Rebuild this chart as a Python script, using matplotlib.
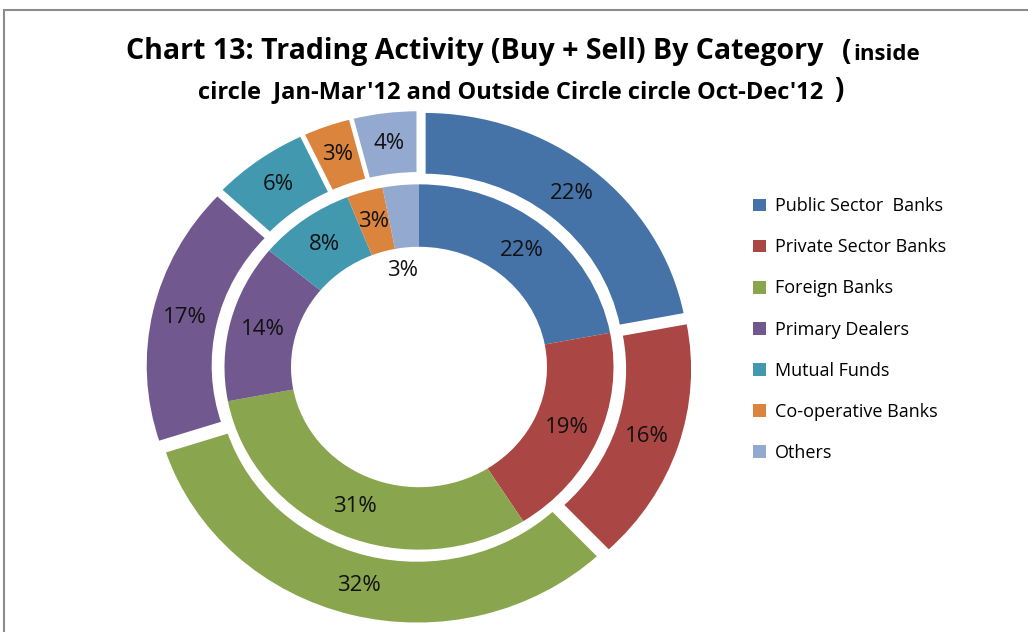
import matplotlib
matplotlib.use("Agg")
import matplotlib.pyplot as plt
from matplotlib.patches import Rectangle

# data
categories = ["Public Sector  Banks", "Private Sector Banks", "Foreign Banks",
              "Primary Dealers", "Mutual Funds", "Co-operative Banks", "Others"]
jan_mar_12 = [22, 19, 31, 14, 8, 3, 3]     # inside circle
oct_dec_12 = [22, 16, 32, 17, 6, 3, 4]     # outside circle
colors = ["#4572A7", "#AA4643", "#89A54E", "#71588F", "#4198AF", "#DB843D", "#93A9CF"]

plt.rcParams['font.family'] = ['Open Sans', 'DejaVu Sans']

fig = plt.figure(figsize=(10.28, 6.32), dpi=100)
ax = fig.add_axes([0, 0, 1, 1])

# outer ring, exploded
w_out, t_out, a_out = ax.pie(
    oct_dec_12, radius=2.66, startangle=90, counterclock=False,
    explode=[0.08] * len(oct_dec_12), colors=colors,
    wedgeprops=dict(width=0.68, edgecolor='white', linewidth=2.2),
    autopct=lambda p: '%.0f%%' % p, pctdistance=0.872,
    textprops=dict(fontsize=16, color='#111111'))

# inner ring
w_in, t_in, a_in = ax.pie(
    jan_mar_12, radius=1.945, startangle=90, counterclock=False,
    colors=colors, wedgeprops=dict(width=0.665, linewidth=0),
    autopct=lambda p: '%.0f%%' % p, pctdistance=0.83,
    textprops=dict(fontsize=16, color='#111111'))
# small "Others" label sits in the hole
a_in[6].set_position((-0.16, 1.03))

ax.set_aspect('auto')
ax.set_xlim(-4.19, 6.09)
ax.set_ylim(-2.822, 3.908)
ax.axis('off')

# title
fig.text(126 / 1028, 1 - 52 / 632, "Chart 13: Trading Activity (Buy + Sell) By Category",
         fontsize=20.5, fontweight='bold', ha='left', va='center')
fig.text(842 / 1028, 1 - 52 / 632, "(", fontsize=20, fontweight='bold',
         ha='left', va='center')
fig.text(853 / 1028, 1 - 54 / 632, "inside", fontsize=16, fontweight='bold',
         ha='left', va='center')
fig.text(198 / 1028, 1 - 92 / 632, "circle  Jan-Mar'12 and Outside Circle circle Oct-Dec'12",
         fontsize=17, fontweight='bold', ha='left', va='center')
fig.text(834 / 1028, 1 - 90 / 632, ")", fontsize=20, fontweight='bold',
         ha='left', va='center')

fig.legend(w_in, categories, loc='upper left', bbox_to_anchor=(737 / 1028, 1 - 181 / 632),
           frameon=False, fontsize=13, handlelength=0.72, handleheight=0.72,
           handletextpad=0.5, labelspacing=1.28)

# chart area border
fig.patches.append(Rectangle((4 / 1028, -0.05), 1.2, 0.9842 + 0.05, transform=fig.transFigure,
                             fill=False, edgecolor='#8C8C8C', linewidth=1.5))

fig.savefig("out.png", dpi=100)
